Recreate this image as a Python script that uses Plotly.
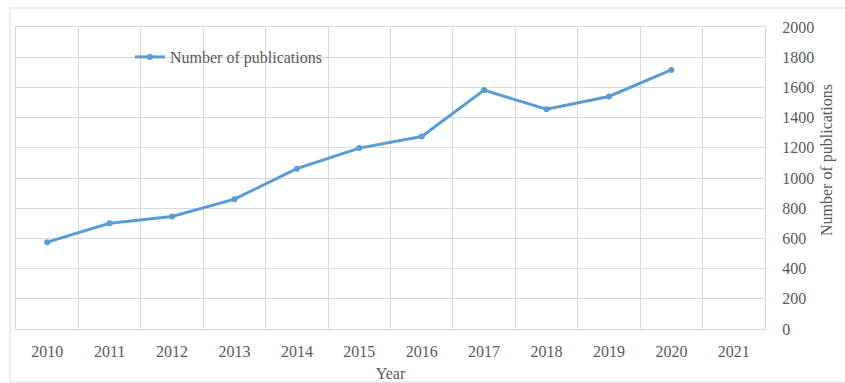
import plotly.graph_objects as go

# Annual publication counts
years = ["2010", "2011", "2012", "2013", "2014", "2015", "2016",
         "2017", "2018", "2019", "2020", "2021"]
publications = [575, 700, 745, 860, 1062, 1198, 1275, 1582, 1455, 1540, 1716, None]
y_ticks = [0, 200, 400, 600, 800, 1000, 1200, 1400, 1600, 1800, 2000]

W, H = 845, 383
ML, MR, MT, MB = 16, 80, 27, 54
PW, PH = W - ML - MR, H - MT - MB

def px_x(p):
    return (p - ML) / PW

def px_y(p):
    return (H - MB - p) / PH

FONT = "Liberation Serif"
TXT = "#595959"
GRID = "#d9d9d9"
BLUE = "#5b9bd5"

fig = go.Figure()
fig.add_trace(go.Scatter(
    x=years, y=publications, mode="lines+markers",
    name="Number of publications",
    line=dict(color=BLUE, width=3),
    marker=dict(color=BLUE, size=6, symbol="circle"),
))

fig.update_layout(
    width=W, height=H,
    margin=dict(l=ML, r=MR, t=MT, b=MB, autoexpand=False),
    paper_bgcolor="white", plot_bgcolor="white",
    font=dict(family=FONT, size=16, color=TXT),
    showlegend=True,
    legend=dict(x=px_x(130), y=px_y(57), xanchor="left", yanchor="middle",
                bgcolor="rgba(0,0,0,0)", font=dict(family=FONT, size=16, color=TXT),
                itemwidth=30),
    xaxis=dict(
        type="category", categoryorder="array", categoryarray=years,
        range=[-0.5, 11.5], tickson="boundaries", automargin=False,
        showgrid=True, gridcolor=GRID, gridwidth=1,
        showline=True, linecolor=GRID, mirror=True,
        ticks="", ticklabelstandoff=8,
        tickfont=dict(family=FONT, size=16, color=TXT),
        title=dict(text="Year", font=dict(family=FONT, size=16, color=TXT), standoff=8),
        zeroline=False,
    ),
    yaxis=dict(
        side="right", range=[0, 2000], tickvals=y_ticks, automargin=False,
        showgrid=True, gridcolor=GRID, gridwidth=1,
        showline=True, linecolor=GRID, mirror=True,
        ticks="", ticklabelstandoff=13,
        tickfont=dict(family=FONT, size=16, color=TXT),
        zeroline=False,
    ),
    annotations=[dict(
        text="Number of publications", textangle=-90,
        xref="paper", yref="paper", x=px_x(827), y=px_y(160),
        xanchor="center", yanchor="middle", showarrow=False,
        font=dict(family=FONT, size=16, color=TXT),
    )],
    shapes=[dict(
        type="rect", xref="paper", yref="paper",
        x0=px_x(10), x1=px_x(W + 5), y0=px_y(382), y1=px_y(8),
        line=dict(color=GRID, width=1), fillcolor="rgba(0,0,0,0)", layer="below",
    )],
)

fig.write_html("out.html")
